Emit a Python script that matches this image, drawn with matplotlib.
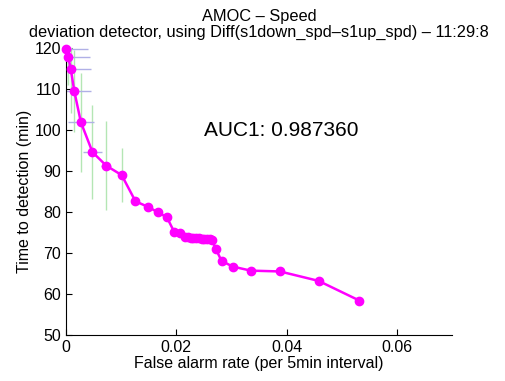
import matplotlib
matplotlib.use("Agg")
import matplotlib.pyplot as plt

plt.rcParams["font.family"] = ["Liberation Sans", "DejaVu Sans"]

# false alarm rate vs time to detection
far = [0.0000, 0.0004, 0.00085, 0.0015, 0.0027, 0.0048, 0.0073, 0.0101,
       0.0126, 0.0148, 0.0166, 0.0183, 0.0196, 0.0207, 0.0216,
       0.0221, 0.0226, 0.0231, 0.0236, 0.0241, 0.0246, 0.0251, 0.0256,
       0.0261, 0.0265, 0.0272, 0.0282, 0.0302, 0.0335, 0.0388, 0.0458,
       0.0532]
ttd = [119.8, 117.9, 115.0, 109.5, 101.9, 94.6, 91.3, 89.0,
       82.6, 81.3, 80.0, 78.7, 75.2, 75.0, 74.0,
       73.8, 73.7, 73.7, 73.6, 73.6, 73.5, 73.5, 73.4,
       73.3, 73.1, 70.9, 68.1, 66.7, 65.7, 65.5, 63.2,
       58.4]
far_err = [0.0039, 0.0039, 0.0036, 0.0030, 0.0023, 0.0017, 0.0009, 0.0005,
           0.0003, 0.0002, 0.0002, 0.0001, 0.0001, 0.0001, 0.0001,
           0, 0, 0, 0, 0, 0, 0, 0, 0, 0, 0, 0, 0, 0, 0, 0, 0]
ttd_err = [8.8, 6.9, 10.9, 10.0, 12.1, 11.4, 10.8, 6.5,
           0, 0, 0, 0, 0, 0, 0, 0, 0, 0, 0, 0, 0, 0, 0, 0, 0,
           0, 0, 0, 0, 0, 0, 0]
auc = 0.987360

fig = plt.figure(figsize=(5.05, 3.81), dpi=100)
ax = fig.add_axes([66 / 505, 1 - 335 / 381, 386 / 505, 287 / 381])

fs = 11.5
ax.errorbar(far, ttd, yerr=ttd_err, fmt="none", ecolor="#b4e6b4", elinewidth=1, capsize=0, zorder=2)
ax.errorbar(far, ttd, xerr=far_err, fmt="none", ecolor="#b0b0e6", elinewidth=1, capsize=0, zorder=2)
ax.plot(far, ttd, "-o", color="#ff00ff", lw=1.8, markersize=6, zorder=3, clip_on=False)

ax.text(0.025, 100, "AUC1: %f" % auc, fontsize=15, va="center", ha="left")

ax.set_xlim(0, 0.07)
ax.set_ylim(50, 120)
ax.set_xticks([0, 0.02, 0.04, 0.06])
ax.set_xticklabels(["0", "0.02", "0.04", "0.06"])
ax.set_yticks(range(50, 121, 10))
ax.tick_params(direction="in", length=4, labelsize=fs, width=0.8)
ax.spines["top"].set_visible(False)
ax.spines["right"].set_visible(False)

ax.set_xlabel("False alarm rate (per 5min interval)", fontsize=fs, labelpad=1)
ax.set_ylabel("Time to detection (min)", fontsize=fs, labelpad=2)
ax.set_title("AMOC \u2013 Speed\ndeviation detector, using Diff(s1down_spd\u2013s1up_spd) \u2013 11:29:8",
             fontsize=11.8, pad=8, linespacing=1.1)

fig.savefig("out.png", dpi=100)
